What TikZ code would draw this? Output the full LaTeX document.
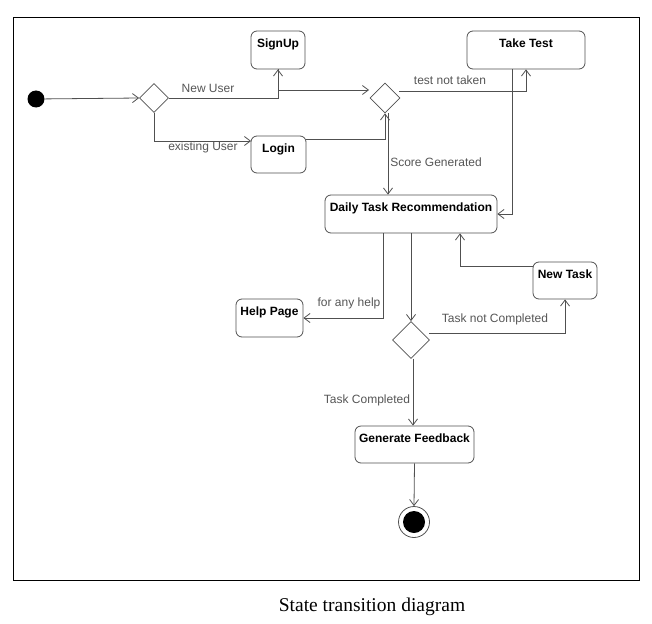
\documentclass[tikz,border=0pt]{standalone}
\usepackage{fontspec}
\setmainfont{Liberation Serif}
\newfontfamily\arialfont{Liberation Sans}
\usetikzlibrary{arrows.meta,shapes.geometric}
\definecolor{linegray}{HTML}{505050}
\definecolor{labelgray}{HTML}{555555}
\tikzset{
  state/.style={draw=linegray, line width=0.8pt, rounded corners=6pt, inner xsep=0pt,
    inner ysep=8pt, text height=8.5pt, font=\arialfont\bfseries\fontsize{12}{14}\selectfont},
  choice/.style={draw=linegray, line width=0.8pt, diamond, inner sep=0pt, aspect=1},
  flow/.style={draw=linegray, line width=0.8pt, -{Straight Barb[length=6pt,width=9pt]}},
  lbl/.style={text=labelgray, inner sep=0pt, font=\arialfont\fontsize{12}{14}\selectfont},
}
\begin{document}
\begin{tikzpicture}[x=1pt,y=-1pt]
\useasboundingbox (0,0) rectangle (652,623);
\draw[black, line width=0.8pt] (13,17) rectangle (639,580);
\node[font=\fontsize{19.5}{23}\selectfont] (caption) at (372,607) {State transition diagram};

% initial / final
\node[circle, fill=black, minimum size=17pt, inner sep=0pt] (start) at (36,99) {};
\node[circle, draw=linegray, line width=0.8pt, minimum size=31pt, inner sep=0pt] (endring) at (414,522) {};
\node[circle, fill=black, minimum size=22pt, inner sep=0pt] (end) at (414,522) {};

% decisions
\node[choice, minimum width=29pt, minimum height=29pt] (d1) at (154,98) {};
\node[choice, minimum width=30pt, minimum height=30pt] (d2) at (385,98) {};
\node[choice, minimum width=37pt, minimum height=37pt] (d3) at (411,340) {};

% states
\node[state, minimum width=54pt, text depth=13.5pt] (signup) at (278,50) {SignUp};
\node[state, minimum width=55pt, text depth=12.5pt] (login) at (278.5,154.5) {Login};
\node[state, minimum width=118pt, text depth=13.5pt] (taketest) at (526,50) {Take Test};
\node[state, minimum width=172pt, text depth=13.5pt] (daily) at (411,214) {Daily Task Recommendation};
\node[state, minimum width=67pt, text depth=13.5pt] (help) at (269.5,318) {Help Page};
\node[state, minimum width=64pt, text depth=12.5pt] (newtask) at (565,280.5) {New Task};
\node[state, minimum width=119pt, text depth=12.5pt] (feedback) at (414.5,444.5) {Generate Feedback};

% helper coordinates
\coordinate (d2in) at (369,90);
\coordinate (d2out) at (399,91);
\coordinate (loginin) at (251,141);
\coordinate (loginout) at (305.5,139);
\coordinate (d3out) at (429,333);

% connectors
\draw[flow] (start) -- (d1.west);
\draw[flow] (d1.east) -| (signup.south);
\draw[flow] (signup.south) |- (d2in);
\draw[flow] (d1.south) |- (loginin);
\draw[flow] (loginout) -| (d2.south);
\draw[flow] ([xshift=3pt]d2.south) -- ([xshift=3pt]d2.south |- daily.north);
\draw[flow] (d2out) -| (taketest.south);
\draw[flow] ([xshift=-14pt]taketest.south) |- (daily.east);
\draw[flow] ([xshift=-28pt]daily.south) |- (help.east);
\draw[flow] (daily.south) -- (d3.north);
\draw[flow] (d3out) -| (newtask.south);
\draw[flow] ([yshift=14.5pt]newtask.west) -| ([xshift=49pt]daily.south);
\draw[flow] ([xshift=2pt]d3.south) -- ([xshift=2pt]d3.south |- feedback.north);
\draw[flow] (feedback.south) -- (endring.north);

% labels
\node[lbl] (lnew) at (208,88) {New User};
\node[lbl] (lexist) at (203,147) {existing User};
\node[lbl] (lnottaken) at (450,80) {test not taken};
\node[lbl] (lscore) at (436,162) {Score Generated};
\node[lbl] (lhelp) at (349,303) {for any help};
\node[lbl] (lnotdone) at (495,319) {Task not Completed};
\node[lbl] (ldone) at (367,400) {Task Completed};
\end{tikzpicture}
\end{document}
